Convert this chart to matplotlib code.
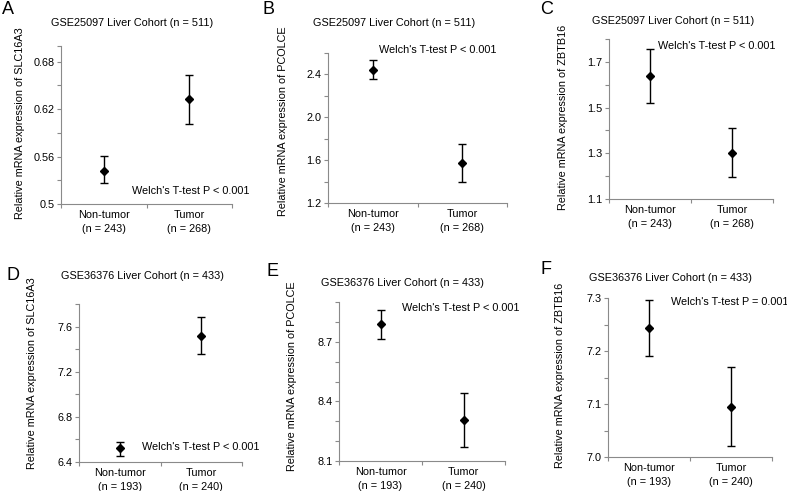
import numpy as np
import matplotlib
matplotlib.use('Agg')
import matplotlib.pyplot as plt

plt.rcParams['font.family'] = ['Liberation Sans', 'DejaVu Sans']

# data (mean, lower, upper) for Non-tumor / Tumor
letters = ['A', 'B', 'C', 'D', 'E', 'F']
genes = ['SLC16A3', 'PCOLCE', 'ZBTB16', 'SLC16A3', 'PCOLCE', 'ZBTB16']
cohorts = ['GSE25097 Liver Cohort (n = 511)'] * 3 + ['GSE36376 Liver Cohort (n = 433)'] * 3
n_labels = [['(n = 243)', '(n = 268)']] * 3 + [['(n = 193)', '(n = 240)']] * 3
pvals = ['P < 0.001', 'P < 0.001', 'P < 0.001', 'P < 0.001', 'P < 0.001', 'P = 0.001']

means = [[0.542, 0.6325], [2.444, 1.575], [1.637, 1.301],
         [6.524, 7.515], [8.789, 8.305], [7.244, 7.095]]
lower = [[0.526, 0.6017], [2.356, 1.394], [1.519, 1.196],
         [6.456, 7.356], [8.715, 8.169], [7.191, 7.021]]
upper = [[0.5604, 0.6629], [2.531, 1.747], [1.755, 1.412],
         [6.574, 7.682], [8.861, 8.443], [7.296, 7.169]]

ylims = [(0.5, 0.70), (1.2, 2.6), (1.1, 1.8), (6.4, 7.8), (8.1, 8.9), (7.0, 7.3)]
major_ticks = [[0.5, 0.56, 0.62, 0.68], [1.2, 1.6, 2.0, 2.4], [1.1, 1.3, 1.5, 1.7],
               [6.4, 6.8, 7.2, 7.6], [8.1, 8.4, 8.7], [7.0, 7.1, 7.2, 7.3]]
major_labels = [['0.5', '0.56', '0.62', '0.68'], ['1.2', '1.6', '2.0', '2.4'],
                ['1.1', '1.3', '1.5', '1.7'], ['6.4', '6.8', '7.2', '7.6'],
                ['8.1', '8.4', '8.7'], ['7.0', '7.1', '7.2', '7.3']]
minor_ticks = [[0.53, 0.59, 0.65, 0.70], [1.4, 1.8, 2.2, 2.6], [1.2, 1.4, 1.6, 1.8],
               [6.6, 7.0, 7.4, 7.8], [8.2, 8.3, 8.5, 8.6, 8.8, 8.9], [7.05, 7.15, 7.25]]

# layout in pixels (x0, y0 top, x1, y1 bottom)
boxes = [(61, 46, 232, 204), (328, 53, 507, 203), (609, 39, 773, 199),
         (79, 304, 242, 462), (339, 302, 505, 461), (608, 298, 772, 457)]
title_pos = [(132, 23), (394, 23), (673, 21), (142, 276), (402, 283), (670, 278)]
letter_pos = [(2, 9), (262, 10), (540, 10), (6, 275), (266, 272), (541, 270)]
welch_pos = [(132, 191), (379, 50), (658, 46), (142, 447), (402, 308), (671, 302)]
ylab_pos = [(20, 123), (283, 121), (563, 117), (32, 373), (292, 376), (560, 375)]

W, H = 787, 491
fig = plt.figure(figsize=(W / 100, H / 100), dpi=100)
fs = 7.8
gray = '#8a8a8a'

for i in range(6):
    x0, y0, x1, y1 = boxes[i]
    ax = fig.add_axes([x0 / W, 1 - y1 / H, (x1 - x0) / W, (y1 - y0) / H])
    m = np.array(means[i])
    err = [m - np.array(lower[i]), np.array(upper[i]) - m]
    ax.errorbar([0.5, 1.5], m, yerr=err, fmt='D', color='black', ms=4.2,
                elinewidth=1, capsize=3, capthick=1)
    ax.set_xlim(0, 2)
    ax.set_ylim(*ylims[i])
    ax.set_xticks([0, 1, 2])
    ax.set_xticklabels([])
    ax.set_xticks([0.5, 1.5], minor=True)
    ax.set_xticklabels(['Non-tumor\n' + n_labels[i][0], 'Tumor\n' + n_labels[i][1]],
                       minor=True, fontsize=fs, linespacing=1.45)
    ax.tick_params(axis='x', which='minor', length=0, pad=4.5)
    ax.tick_params(axis='x', which='major', length=3, color=gray, width=0.8)
    ax.set_yticks(major_ticks[i])
    ax.set_yticklabels(major_labels[i], fontsize=fs)
    ax.set_yticks(minor_ticks[i], minor=True)
    ax.tick_params(axis='y', which='both', length=3, color=gray, width=0.8, pad=1.5)
    for s in ['top', 'right']:
        ax.spines[s].set_visible(False)
    for s in ['left', 'bottom']:
        ax.spines[s].set_color(gray)
        ax.spines[s].set_linewidth(0.8)
    ax.set_facecolor('none')

    fig.text(title_pos[i][0] / W, 1 - title_pos[i][1] / H, cohorts[i],
             fontsize=fs, ha='center', va='center')
    fig.text(letter_pos[i][0] / W, 1 - letter_pos[i][1] / H, letters[i],
             fontsize=13, ha='left', va='center')
    fig.text(welch_pos[i][0] / W, 1 - welch_pos[i][1] / H,
             "Welch's T-test " + pvals[i], fontsize=fs, ha='left', va='center')
    fig.text(ylab_pos[i][0] / W, 1 - ylab_pos[i][1] / H,
             'Relative mRNA expression of ' + genes[i], fontsize=fs,
             rotation=90, ha='center', va='center')

fig.savefig('out.png', dpi=100)
